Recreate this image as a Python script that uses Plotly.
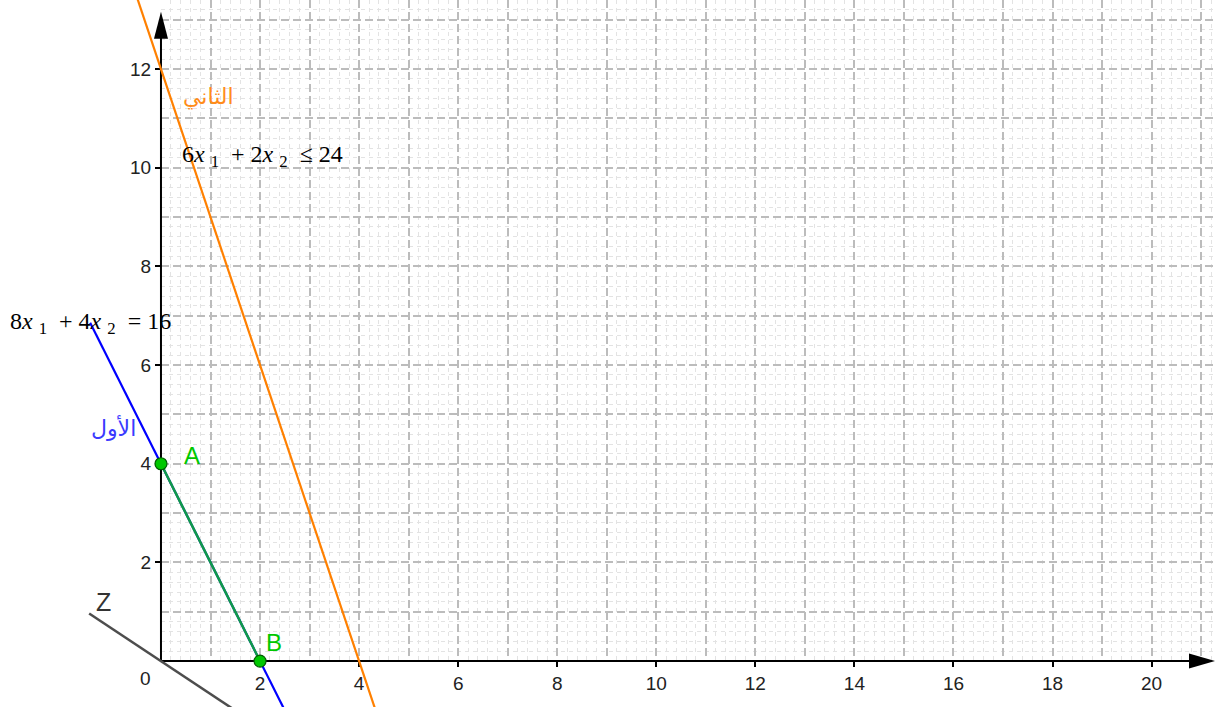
import plotly.graph_objects as go

# ---- data ----
x_tick_vals = [2, 4, 6, 8, 10, 12, 14, 16, 18, 20]
y_tick_vals = [2, 4, 6, 8, 10, 12]
# constraint 1: 8x1 + 4x2 = 16  ("الأول")
c1 = (8, 4, 16)
c1_x = [-1.43, 2.6]
# constraint 2: 6x1 + 2x2 <= 24  ("الثاني")
c2 = (6, 2, 24)
c2_x = [-0.6, 4.4]
# objective Z: 2x1 + 3x2 = 0
z = (2, 3, 0)
z_x = [-1.45, 1.6]
# corner points
pts_name = ["A", "B"]
pts_x = [0, 2]
pts_y = [4, 0]

def line_y(coef, xs):
    a, b, c = coef
    return [(c - a * x) / b for x in xs]

# ---- view ----
X0, X1 = -3.25, 21.32
Y0, Y1 = -0.93, 13.40
fx = -X0 / (X1 - X0)
fy = -Y0 / (Y1 - Y0)
X_TIP, Y_TIP = 21.28, 13.16

fig = go.Figure()

# dummy traces so the grid/label axes exist
fig.add_trace(go.Scatter(x=[None], y=[None], xaxis="x", yaxis="y", showlegend=False, hoverinfo="skip"))
fig.add_trace(go.Scatter(x=[None], y=[None], xaxis="x3", yaxis="y3", showlegend=False, hoverinfo="skip"))

# data traces on full-view axes
fig.add_trace(go.Scatter(x=c2_x, y=line_y(c2, c2_x), mode="lines", xaxis="x2", yaxis="y2",
                         line=dict(color="#ff8000", width=2.2), showlegend=False, hoverinfo="skip"))
fig.add_trace(go.Scatter(x=c1_x, y=line_y(c1, c1_x), mode="lines", xaxis="x2", yaxis="y2",
                         line=dict(color="#0000ff", width=2.2), showlegend=False, hoverinfo="skip"))
fig.add_trace(go.Scatter(x=z_x, y=line_y(z, z_x), mode="lines", xaxis="x2", yaxis="y2",
                         line=dict(color="#4d4d4d", width=2.5), showlegend=False, hoverinfo="skip"))
fig.add_trace(go.Scatter(x=pts_x, y=pts_y, mode="lines", xaxis="x2", yaxis="y2",
                         line=dict(color="#109a48", width=2.5), showlegend=False, hoverinfo="skip"))
fig.add_trace(go.Scatter(x=pts_x, y=pts_y, mode="markers", xaxis="x2", yaxis="y2",
                         marker=dict(color="#00c800", size=12, line=dict(color="#005c00", width=1.2)),
                         showlegend=False, hoverinfo="skip"))

tick_font = dict(family="Liberation Sans, Arial, sans-serif", size=19, color="#222222")
major_grid = dict(showgrid=True, gridcolor="#bcbcbc", gridwidth=1.5, griddash="8px,4px")
minor_grid = dict(tickmode="linear", tick0=0, dtick=0.2, showgrid=True,
                  gridcolor="#e3e3e3", gridwidth=1, griddash="4px,4px")

fig.update_layout(
    width=1217, height=707,
    margin=dict(l=0, r=0, t=0, b=0),
    paper_bgcolor="white",
    plot_bgcolor="rgba(0,0,0,0)",
    xaxis=dict(domain=[fx, 1], range=[0, X1], anchor="y",
               tickmode="linear", tick0=0, dtick=1, showticklabels=False, ticks="",
               minor=minor_grid, zeroline=False, showline=False, fixedrange=True, **major_grid),
    yaxis=dict(domain=[fy, 1], range=[0, Y1], anchor="x",
               tickmode="linear", tick0=0, dtick=1, showticklabels=False, ticks="",
               minor=minor_grid, zeroline=False, showline=False, fixedrange=True, **major_grid),
    xaxis3=dict(overlaying="x", matches="x", anchor="y", side="bottom",
                tickmode="array", tickvals=x_tick_vals, ticktext=[str(v) for v in x_tick_vals],
                ticks="outside", ticklen=5, tickwidth=1.5, tickcolor="black",
                tickfont=tick_font, showgrid=False, zeroline=False, showline=False),
    yaxis3=dict(overlaying="y", matches="y", anchor="x", side="left",
                tickmode="array", tickvals=y_tick_vals, ticktext=[str(v) for v in y_tick_vals],
                ticks="outside", ticklen=5, tickwidth=1.5, tickcolor="black",
                tickfont=tick_font, showgrid=False, zeroline=False, showline=False),
    xaxis2=dict(domain=[0, 1], range=[X0, X1], anchor="y2", visible=False, fixedrange=True),
    yaxis2=dict(domain=[0, 1], range=[Y0, Y1], anchor="x2", visible=False, fixedrange=True),
)

shapes = [
    dict(type="line", xref="x2", yref="y2", x0=0, y0=0, x1=X_TIP - 0.3, y1=0,
         line=dict(color="black", width=2), layer="below"),
    dict(type="line", xref="x2", yref="y2", x0=0, y0=0, x1=0, y1=Y_TIP - 0.3,
         line=dict(color="black", width=2), layer="below"),
    dict(type="path", xref="x2", yref="y2", xsizemode="pixel", ysizemode="pixel",
         xanchor=X_TIP, yanchor=0, path="M0,0 L-26,7.5 L-26,-7.5 Z",
         fillcolor="black", line=dict(width=0)),
    dict(type="path", xref="x2", yref="y2", xsizemode="pixel", ysizemode="pixel",
         xanchor=0, yanchor=Y_TIP, path="M0,0 L-7,-27 L7,-27 Z",
         fillcolor="black", line=dict(width=0)),
]
fig.update_layout(shapes=shapes)

serif = "Liberation Serif, Times New Roman, serif"
sans = "Liberation Sans, Arial, sans-serif"
arab = "DejaVu Sans, Noto Sans, sans-serif"
NB = "\u00a0"
eq2 = f"6<i>x</i>{NB}<sub>1</sub>{NB}{NB}+{NB}2<i>x</i>{NB}<sub>2</sub>{NB}{NB}≤{NB}24"
eq1 = f"8<i>x</i>{NB}<sub>1</sub>{NB}{NB}+{NB}4<i>x</i>{NB}<sub>2</sub>{NB}{NB}={NB}16"
ann = [
    dict(x=0.38, y=10.24, text=eq2, xanchor="left", font=dict(family=serif, size=24, color="black")),
    dict(x=-3.09, y=6.86, text=eq1, xanchor="left", font=dict(family=serif, size=24, color="black")),
    dict(x=0.95, y=11.43, text="الثاني", font=dict(family=arab, size=22, color="#ff8c1a")),
    dict(x=-0.95, y=4.72, text="الأول", font=dict(family=arab, size=22, color="#3a3aff")),
    dict(x=0.62, y=4.16, text=pts_name[0], font=dict(family=sans, size=24, color="#00c800")),
    dict(x=2.28, y=0.375, text=pts_name[1], font=dict(family=sans, size=24, color="#00c800")),
    dict(x=-1.16, y=1.19, text="Z", font=dict(family=sans, size=25, color="#333333")),
    dict(x=-0.32, y=-0.36, text="0", font=dict(family=sans, size=19, color="#222222")),
]
for a in ann:
    a.setdefault("xanchor", "center")
    a.update(xref="x2", yref="y2", showarrow=False, yanchor="middle")
fig.update_layout(annotations=ann)

fig.write_html("out.html", config={"displayModeBar": False},
               post_script="document.body.style.margin='0px';document.body.style.overflow='hidden';")
